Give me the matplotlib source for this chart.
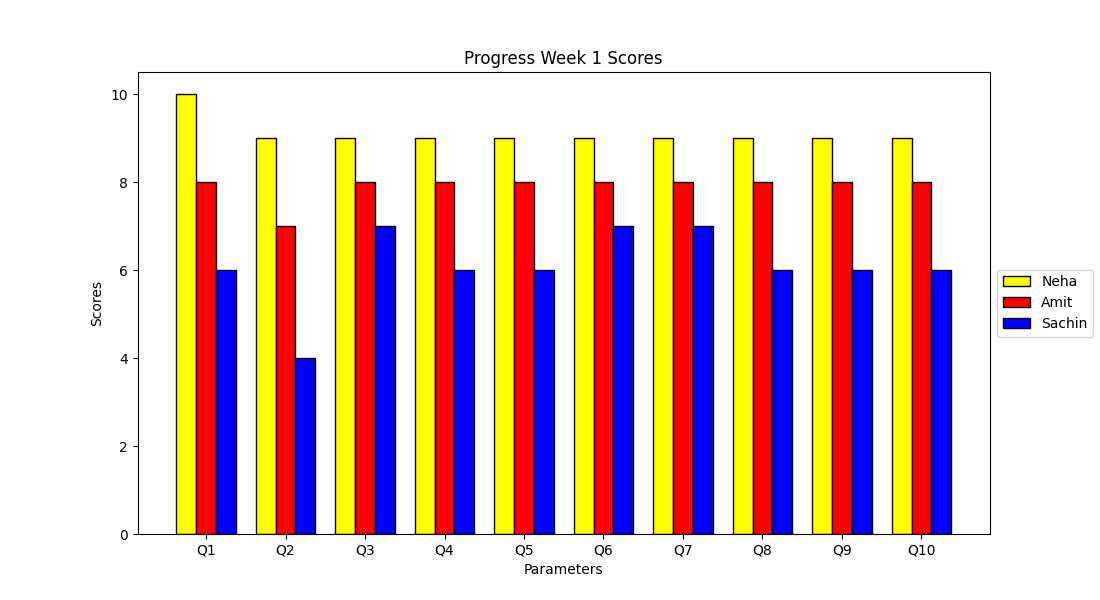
import matplotlib
matplotlib.use("Agg")
import matplotlib.pyplot as plt
import numpy as np

categories = ["Q1", "Q2", "Q3", "Q4", "Q5", "Q6", "Q7", "Q8", "Q9", "Q10"]
neha = [10, 9, 9, 9, 9, 9, 9, 9, 9, 9]
amit = [8, 7, 8, 8, 8, 8, 8, 8, 8, 8]
sachin = [6, 4, 7, 6, 6, 7, 7, 6, 6, 6]

fig, ax = plt.subplots(figsize=(11, 6), dpi=100)
x = np.arange(len(categories))
w = 0.25
ax.bar(x, neha, w, color="yellow", edgecolor="black", label="Neha")
ax.bar(x + w, amit, w, color="red", edgecolor="black", label="Amit")
ax.bar(x + 2 * w, sachin, w, color="blue", edgecolor="black", label="Sachin")
ax.set_xticks(x + w)
ax.set_xticklabels(categories)
ax.set_xlabel("Parameters")
ax.set_ylabel("Scores")
ax.set_title("Progress Week 1 Scores")
ax.legend(loc="center left", bbox_to_anchor=(1, 0.5))
fig.savefig("out.png")
